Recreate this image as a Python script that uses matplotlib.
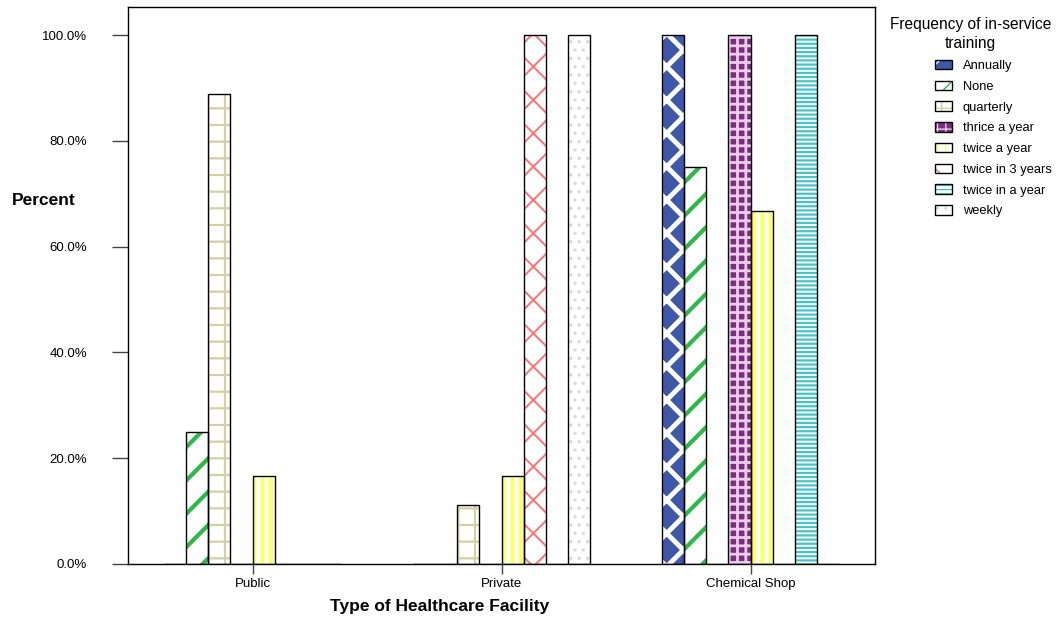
import matplotlib
matplotlib.use("Agg")
import matplotlib.pyplot as plt
import numpy as np
from matplotlib.legend_handler import HandlerTuple

plt.rcParams['font.family'] = ['Liberation Sans', 'DejaVu Sans']

# ---- data ----
facilities = ["Public", "Private", "Chemical Shop"]
series_names = ["Annually", "None", "quarterly", "thrice a year", "twice a year",
                "twice in 3 years", "twice in a year", "weekly"]
annually = [0.0, 0.0, 100.0]
none_ = [25.0, 0.0, 75.0]
quarterly = [88.9, 11.1, 0.0]
thrice_a_year = [0.0, 0.0, 100.0]
twice_a_year = [16.7, 16.7, 66.7]
twice_in_3_years = [0.0, 100.0, 0.0]
twice_in_a_year = [0.0, 0.0, 100.0]
weekly = [0.0, 100.0, 0.0]
series_values = [annually, none_, quarterly, thrice_a_year, twice_a_year,
                 twice_in_3_years, twice_in_a_year, weekly]
y_ticks = [0, 20, 40, 60, 80, 100]

# ---- styles: (facecolor, hatchcolor, hatch, hatch linewidth) ----
styles = [
    ("#3F57A8", "white", "x", 3.5),
    ("white", "#2DB84A", "/", 3.0),
    ("white", "#D6CFA0", "+", 1.6),
    ("#7E2C80", "#E9CFE9", "++", 2.0),
    ("white", "#FFFF66", "||", 3.0),
    ("white", "#FF7272", "x", 1.4),
    ("white", "#48C4C4", "----", 1.6),
    ("white", "#D9D9D9", "..", 1.2),
]

fig = plt.figure(figsize=(10.57, 6.2), dpi=100)
ax = fig.add_axes([128/1057, 1-564/620, (875-128)/1057, (564-7)/620])

x = np.arange(len(facilities))
n = len(series_names)
width = 0.0884
handles = []
for i, (name, vals) in enumerate(zip(series_names, series_values)):
    fc, hc, hatch, hlw = styles[i]
    pos = x + (i - (n - 1) / 2) * width
    with plt.rc_context({'hatch.linewidth': hlw}):
        b1 = ax.bar(pos, vals, width=width, facecolor=fc, edgecolor=hc,
                    hatch=hatch, linewidth=0, zorder=2)
    b2 = ax.bar(pos, vals, width=width, fill=False, edgecolor="black",
                linewidth=1.0, zorder=3)
    handles.append((b1.patches[0], b2.patches[0]))

ax.set_xlim(-0.5, 2.5)
ax.set_ylim(0, 105.3)
ax.set_xticks(x)
ax.set_xticklabels(facilities, fontsize=9.5)
ax.set_yticks(y_ticks)
ax.set_yticklabels([f"{v:.1f}%" for v in y_ticks], fontsize=9.5)
ax.tick_params(axis='y', length=11.5, width=1, color='#444444', pad=18)
ax.tick_params(axis='x', length=7, width=1, color='#444444', pad=3)
for s in ax.spines.values():
    s.set_linewidth(1.0)

ax.set_ylabel("Percent", fontsize=12.5, fontweight='bold', rotation=0,
              ha='left', va='center')
ax.yaxis.set_label_coords(-0.155, 0.653)
ax.set_xlabel("Type of Healthcare Facility", fontsize=12.5, fontweight='bold',
              va='center')
ax.xaxis.set_label_coords(0.4177, -0.077)

leg = fig.legend(handles, series_names,
                 handler_map={tuple: HandlerTuple(ndivide=1, pad=0)},
                 loc='upper left', bbox_to_anchor=(881/1057, 1-8/620),
                 frameon=False, fontsize=9.3,
                 title="Frequency of in-service\ntraining", title_fontsize=11.2,
                 handlelength=1.25, handleheight=0.75, labelspacing=0.66,
                 handletextpad=0.85, borderpad=0.2, alignment='right')
leg.get_title().set_multialignment('center')
leg.get_title().set_linespacing(1.35)

fig.savefig("out.png", dpi=100)
